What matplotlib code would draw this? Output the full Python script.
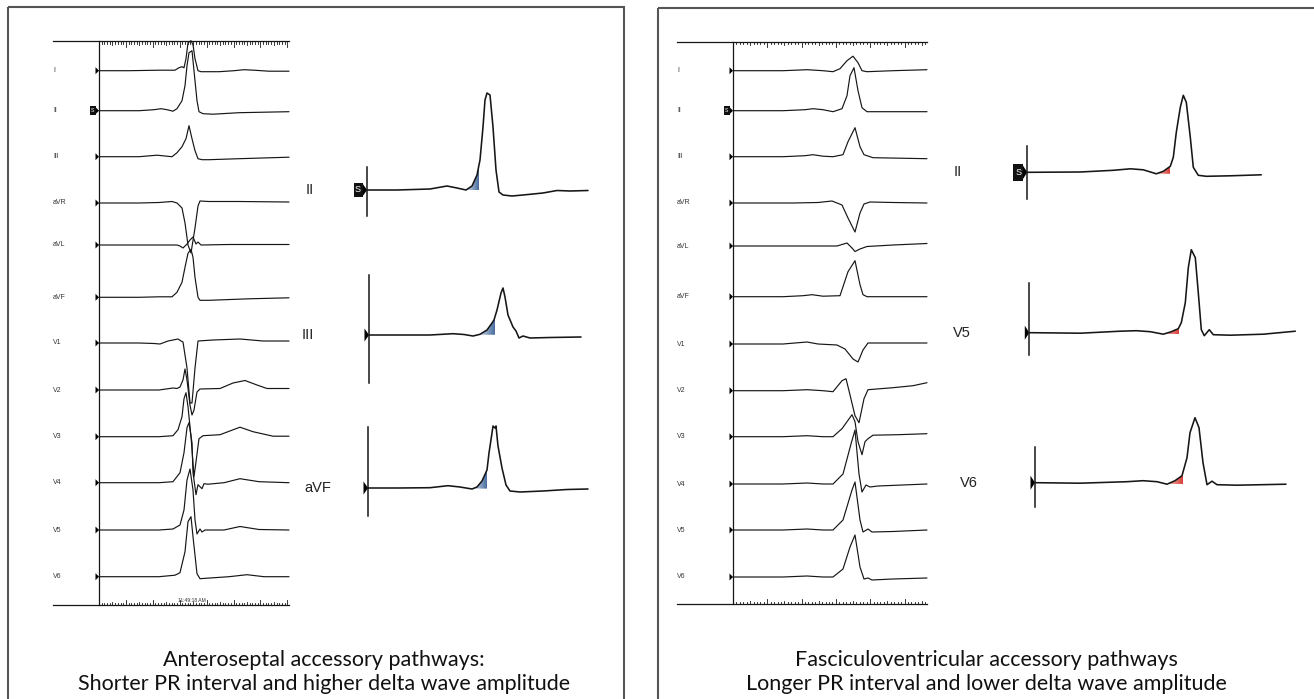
import numpy as np
import matplotlib.pyplot as plt
from matplotlib.patches import Rectangle, Polygon
from matplotlib.colors import LinearSegmentedColormap

# ---------------- data: waveform knots (t = px after trace start, v = px above baseline)
leads = ['I', 'II', 'III', 'aVR', 'aVL', 'aVF', 'V1', 'V2', 'V3', 'V4', 'V5', 'V6']

# anteroseptal 12-lead
as_t = {
    'I':   [0, 30, 60, 76, 80, 83, 85, 87, 89, 92, 94, 96, 99, 102, 120, 135, 145, 155, 170, 190],
    'II':  [0, 40, 55, 62, 68, 74, 78, 83, 86, 88, 90, 93, 95, 98, 100, 104, 114, 140, 165, 190],
    'III': [0, 40, 58, 63, 73, 78, 83, 87, 90, 93, 96, 99, 103, 110, 140, 190],
    'aVR': [0, 40, 60, 73, 78, 83, 86, 89, 92, 96, 99, 101, 110, 140, 190],
    'aVL': [0, 60, 78, 81, 84, 88, 91, 94, 97, 99, 102, 130, 190],
    'aVF': [0, 40, 60, 73, 78, 83, 86, 89, 92, 94, 96, 99, 101, 110, 150, 190],
    'V1':  [0, 40, 55, 61, 69, 74, 79, 82, 84, 88, 91, 93, 96, 99, 114, 141, 164, 190],
    'V2':  [0, 40, 60, 74, 78, 81, 84, 86, 88, 91, 93, 95, 98, 101, 121, 134, 146, 158, 168, 190],
    'V3':  [0, 40, 60, 74, 79, 83, 85, 87, 89, 92, 95, 97, 100, 104, 121, 141, 154, 174, 190],
    'V4':  [0, 40, 60, 74, 81, 85, 88, 90, 93, 94, 97, 99, 101, 103, 105, 109, 125, 141, 160, 190],
    'V5':  [0, 40, 60, 74, 81, 85, 88, 91, 94, 96, 98, 101, 103, 106, 125, 141, 160, 190],
    'V6':  [0, 40, 60, 76, 81, 86, 89, 92, 94, 98, 101, 108, 130, 148, 165, 190],
}
as_v = {
    'I':   [0, 0, 0.5, 0.5, 3, 4, 3, 12, 28, 30, 26, 12, 0, -1, -1, 0, 1, 0.5, -0.5, -0.5],
    'II':  [0, 0, 1, 2, 1, -0.5, 2, 10, 25, 45, 58, 60, 40, 10, -1, -3, -3.5, -2, -1.5, -1],
    'III': [0, 0, 1.5, 1, 0, 4, 10, 18, 31, 18, 6, -2, -3, -3, -2, -0.5],
    'aVR': [0, 0, 0.5, 1.5, 0, -5, -20, -42, -50, -25, -3, 2, 1.5, 1.5, 1],
    'aVL': [0, 0, 0, -1, -3, 1, 5, 8, 1, 3, 0, 0.5, 0.5],
    'aVF': [0, 0, 0.5, 0.5, 5, 15, 30, 44, 48, 40, 20, 0, -3, -3, -1.5, -0.5],
    'V1':  [0, 0, -0.5, -1, 2, 3, 4, 2, 1, -25, -60, -60, -25, 2, 3, 4, 2, 2],
    'V2':  [0, 0, 0, 2, 1.5, 3, 10, 21, 10, -15, -25, -20, -2, 1, 1.5, 7, 9.5, 5, 1.5, 1.5],
    'V3':  [0, 0, 0, 1, 7, 20, 38, 44, 30, 0, -40, -25, -2, 1, 2, 9.5, 5, 0.5, 0.5],
    'V4':  [0, 0, 0, 1, 10, 30, 55, 60, 40, 10, -12, -2, -4, -6, -1, -1.5, 0, 4, 1, 0],
    'V5':  [0, 0, 0, 1, 5, 20, 50, 61, 40, 10, -4, 1, -2, 0, 0, 3.5, 0.5, 0],
    'V6':  [0, 0, 0, 1.5, 4, 25, 55, 60, 40, 3, -2, -1.5, 0, 2, 0, 0],
}

# fasciculoventricular 12-lead
fv_t = {
    'I':   [0, 50, 74, 90, 100, 107, 114, 120, 125, 129, 134, 160, 194],
    'II':  [0, 50, 72, 80, 90, 100, 109, 114, 117, 121, 125, 129, 134, 160, 194],
    'III': [0, 50, 72, 80, 90, 100, 110, 115, 122, 127, 131, 140, 194],
    'aVR': [0, 60, 85, 99, 109, 115, 122, 127, 131, 137, 160, 194],
    'aVL': [0, 60, 90, 104, 114, 119, 122, 127, 134, 160, 194],
    'aVF': [0, 50, 70, 79, 90, 107, 115, 122, 127, 130, 134, 160, 194],
    'V1':  [0, 50, 74, 85, 104, 112, 120, 125, 130, 135, 160, 194],
    'V2':  [0, 50, 74, 90, 100, 109, 113, 116, 122, 126, 131, 135, 160, 180, 194],
    'V3':  [0, 50, 74, 90, 100, 109, 119, 122, 125, 129, 132, 135, 140, 165, 194],
    'V4':  [0, 50, 74, 90, 100, 110, 118, 122, 126, 129, 133, 137, 145, 194],
    'V5':  [0, 50, 74, 90, 100, 110, 119, 122, 127, 130, 135, 139, 160, 194],
    'V6':  [0, 50, 74, 90, 100, 110, 117, 122, 127, 131, 135, 139, 160, 194],
}
fv_v = {
    'I':   [0, 0, 1, 0, -1, 2, 10, 14.5, 8, 0, -1, 0, 1],
    'II':  [0, 0, 1, 2, 1, -1, 2, 15, 35, 43, 20, 3, -1, -1, -1],
    'III': [0, 0, 1, 2, 0.5, 0, 2, 15, 29, 10, 2, -1, -2],
    'aVR': [0, 0, 0.5, 2, -2, -15, -29, -10, -1, 1, 0.5, 0],
    'aVL': [0, 0, 0, 0, 3, -2, -5.5, -3, -0.5, 1, 2.5],
    'aVF': [0, 0, 1, 2, 0.5, 1, 25, 36, 12, 2, 0, 0, 0],
    'V1':  [0, 0, 2, 0, -1, -5, -15, -18, -6, 1, 1, 1],
    'V2':  [0, 0, 1, 0, -1, 10, 12, 0, -25, -32, -8, 1, 3, 5, 8],
    'V3':  [0, 0, 1, 0, 0, 8, 22, 15, -5, -18, -5, -2, 1.5, 2, 3],
    'V4':  [0, 0, 1, 0, 0, 10, 40, 54, 10, -8, -1, -3, -2, 0],
    'V5':  [0, 0, 1, 0, 0, 10, 40, 48, 10, -2, 1, -2, -1.5, 0],
    'V6':  [0, 0, 1, 0, 0, 8, 30, 42, 10, -2, -1, -3, -2, -1],
}

# enlarged leads with delta wave
as_zoom_names = ['II', 'III', 'aVF']
as_zoom_t = [
    [0, 30, 63, 80, 90, 99, 105, 110, 113, 116, 118, 120, 123, 126, 129, 132, 136, 145, 156, 176, 190, 203, 221],
    [0, 30, 61, 84, 95, 104, 111, 118, 123, 125, 128, 132, 134, 136, 139, 144, 147, 150, 154, 161, 181, 212],
    [0, 30, 62, 80, 92, 104, 109, 114, 119, 121, 124, 125, 127, 128, 130, 134, 138, 142, 152, 175, 199, 220],
]
as_zoom_v = [
    [0, 0, 1, 4, 2, 0, 4, 15, 30, 63, 90, 97, 95, 63, 20, -2, -5, -6, -5, -3, -0.5, -1, -0.5],
    [0, 0, 0, 1.3, 0.5, -1, 0.7, 5, 12, 15, 25, 42, 47, 38, 20, 8, 4, -3, -1, -3, -2.5, -2],
    [0, 0, 0.3, 2.3, 1, -1, 1, 7, 18, 35, 55, 62, 60, 62, 42, 20, 3, -3, -4, -3, -1.5, -1],
]
as_delta = [(99, 112), (109, 126), (105, 119)]

fv_zoom_names = ['II', 'V5', 'V6']
fv_zoom_t = [
    [0, 3, 53, 86, 103, 116, 129, 136, 143, 146, 149, 153, 156, 159, 163, 166, 171, 179, 203, 234],
    [0, 3, 51, 91, 107, 121, 134, 142, 149, 152, 156, 159, 162, 166, 169, 172, 175, 180, 184, 201, 234, 266],
    [0, 2, 45, 92, 108, 122, 132, 140, 147, 152, 155, 160, 164, 168, 172, 177, 182, 202, 251],
]
fv_zoom_v = [
    [0, 0, 0.3, 2, 3.5, 2.5, -1.5, 1, 6, 15, 40, 65, 77, 70, 35, 5, -3, -4, -3.5, -2.5],
    [0, 0, -0.5, 1.5, 2, 1, -1.5, 1, 4, 10, 30, 65, 83, 75, 40, 3, -3, 3, -2, -2.5, -1.5, 1.5],
    [0, 0, -0.5, 1, 2, 1, -1.5, 2, 7, 25, 50, 65, 55, 20, -2, 1.5, -2, -2.5, -1.5],
]
fv_delta = [(129, 143), (134, 150), (132, 148)]

title_as = ['Anteroseptal accessory pathways:', 'Shorter PR interval and higher delta wave amplitude']
title_fv = ['Fasciculoventricular accessory pathways', 'Longer PR interval and lower delta wave amplitude']

# ---------------- layout (pixel space)
W, H = 1314, 699
fig = plt.figure(figsize=(W / 100, H / 100), dpi=100)
ax = fig.add_axes([0, 0, 1, 1])
ax.axis('off')

INK = '#161616'
label_font = ['Liberation Sans', 'DejaVu Sans']


def trace(x0, y0, t, v, lw=0.85):
    ax.plot(x0 + np.asarray(t, float), y0 - np.asarray(v, float), color=INK, lw=lw,
            solid_joinstyle='round', solid_capstyle='round')


def marker(x_tip, y, w, h):
    ax.add_patch(Polygon([(x_tip - w, y - h / 2), (x_tip, y), (x_tip - w, y + h / 2)],
                         closed=True, fc='black', ec='none'))


def s_box(x_right, y, w, h, fs):
    ax.add_patch(Rectangle((x_right - w, y - h / 2), w, h, fc='#111111', ec='none'))
    ax.text(x_right - w / 2, y, 'S', color='white', fontsize=fs, ha='center', va='center',
            family=['Liberation Sans', 'DejaVu Sans'])


def ruler(x0, x1, y, sign, major, nminor):
    step = major / nminor
    n = int((x1 - x0) / step) + 1
    for i in range(n):
        x = x0 + i * step
        ln = 5.5 if i % nminor == 0 else (3.5 if i % (nminor // 2) == 0 else 2.5)
        ax.plot([x, x], [y, y + sign * ln], color=INK, lw=0.6)


def delta_fill(x0, y0, t, v, ta, tb, c_light, c_dark):
    tt = np.linspace(ta, tb, 40)
    vv = np.interp(tt, t, v)
    base = vv[0]
    verts = [(x0 + ta, y0 - base)] + list(zip(x0 + tt, y0 - vv)) + [(x0 + tb, y0 - base)]
    poly = Polygon(verts, closed=True, fc='none', ec='none')
    ax.add_patch(poly)
    cmap = LinearSegmentedColormap.from_list('g', [c_light, c_dark])
    grad = np.linspace(0, 1, 64).reshape(1, -1)
    im = ax.imshow(grad, extent=(x0 + ta, x0 + tb, y0 - base, y0 - vv.max()), cmap=cmap,
                   aspect='auto', interpolation='bilinear', zorder=1)
    im.set_clip_path(poly)


def twelve_lead(x0, x_end, label_x, ytop, ybot, baselines, tdict, vdict, major, s_lead='II', stamp=None):
    ax.plot([label_x, x_end], [ytop, ytop], color=INK, lw=0.9)
    ax.plot([label_x, x_end], [ybot, ybot], color=INK, lw=0.9)
    ax.plot([x0, x0], [ytop, ybot], color=INK, lw=0.9)
    ruler(x0, x_end, ytop, 1, major, 10)
    ruler(x0, x_end, ybot, -1, major, 10)
    for name, yb in zip(leads, baselines):
        ax.text(label_x, yb, name, fontsize=5, color='#333333', ha='left', va='center',
                family=['Liberation Sans', 'DejaVu Sans'])
        marker(x0, yb, 3.5, 7)
        if name == s_lead:
            s_box(x0 - 3.5, yb, 5.5, 8.5, 3.6)
        trace(x0, yb, tdict[name], vdict[name])
    if stamp:
        ax.text(stamp[0], stamp[1], stamp[2], fontsize=3.6, color='#333333', ha='center', va='bottom',
                family=['Liberation Sans', 'DejaVu Sans'])


def zoom_leads(names, bars_x, baselines, bar_ext, label_x, ts, vs, deltas, c_light, c_dark, big):
    for i, name in enumerate(names):
        xb, yb = bars_x[i], baselines[i]
        up, dn = bar_ext[i]
        ax.plot([xb, xb], [yb - up, yb + dn], color=INK, lw=1.1)
        delta_fill(xb, yb, ts[i], vs[i], deltas[i][0], deltas[i][1], c_light, c_dark)
        trace(xb, yb, ts[i], vs[i], lw=1.15)
        marker(xb, yb, big[0], big[1])
        if i == 0:
            s_box(xb - big[0], yb, big[2], big[3], 6.5)
        ax.text(label_x[i], yb, name, fontsize=10.5, color='#222222', ha='left', va='center',
                family=label_font)


# panel frames
ax.add_patch(Rectangle((8, 7), 616, 720, fc='none', ec='#555555', lw=1.5))
ax.add_patch(Rectangle((658, 8), 700, 720, fc='none', ec='#555555', lw=1.5))

as_base = [70.7, 110.7, 156.7, 203, 245, 297.3, 343, 390, 436.7, 482.7, 530, 576.7]
fv_base = [70.7, 110.7, 156.7, 203, 246, 296.7, 344, 390.7, 436.7, 484, 530, 577]

twelve_lead(99, 289, 53, 41, 605, as_base, as_t, as_v, 26.9, stamp=(192, 603, '11:49:18 AM'))
twelve_lead(733, 927, 677, 41.7, 604, fv_base, fv_t, fv_v, 34.3)

zoom_leads(as_zoom_names, [367, 369, 368], [190, 335, 488], [(23, 26), (60, 48), (61, 28)],
           [306, 302, 304], as_zoom_t, as_zoom_v, as_delta, '#d5e0ee', '#4a6e9e', (4.5, 13, 9, 14))
zoom_leads(fv_zoom_names, [1027.3, 1029.3, 1035], [172.3, 332.7, 482.7], [(26, 27), (50, 22), (36, 24)],
           [954, 953, 960], fv_zoom_t, fv_zoom_v, fv_delta, '#f7c4bd', '#d8403a', (4.5, 14, 9.5, 17))

# captions
title_font = ['Lato', 'DejaVu Sans']
for i, line in enumerate(title_as):
    ax.text(324, 660 + i * 24, line, fontsize=15.5, ha='center', va='center', color='#111111', family=title_font)
for i, line in enumerate(title_fv):
    ax.text(986, 660 + i * 24, line, fontsize=15.5, ha='center', va='center', color='#111111', family=title_font)

ax.set_xlim(0, W)
ax.set_ylim(H, 0)
fig.savefig('out.png', dpi=100, facecolor='white')
